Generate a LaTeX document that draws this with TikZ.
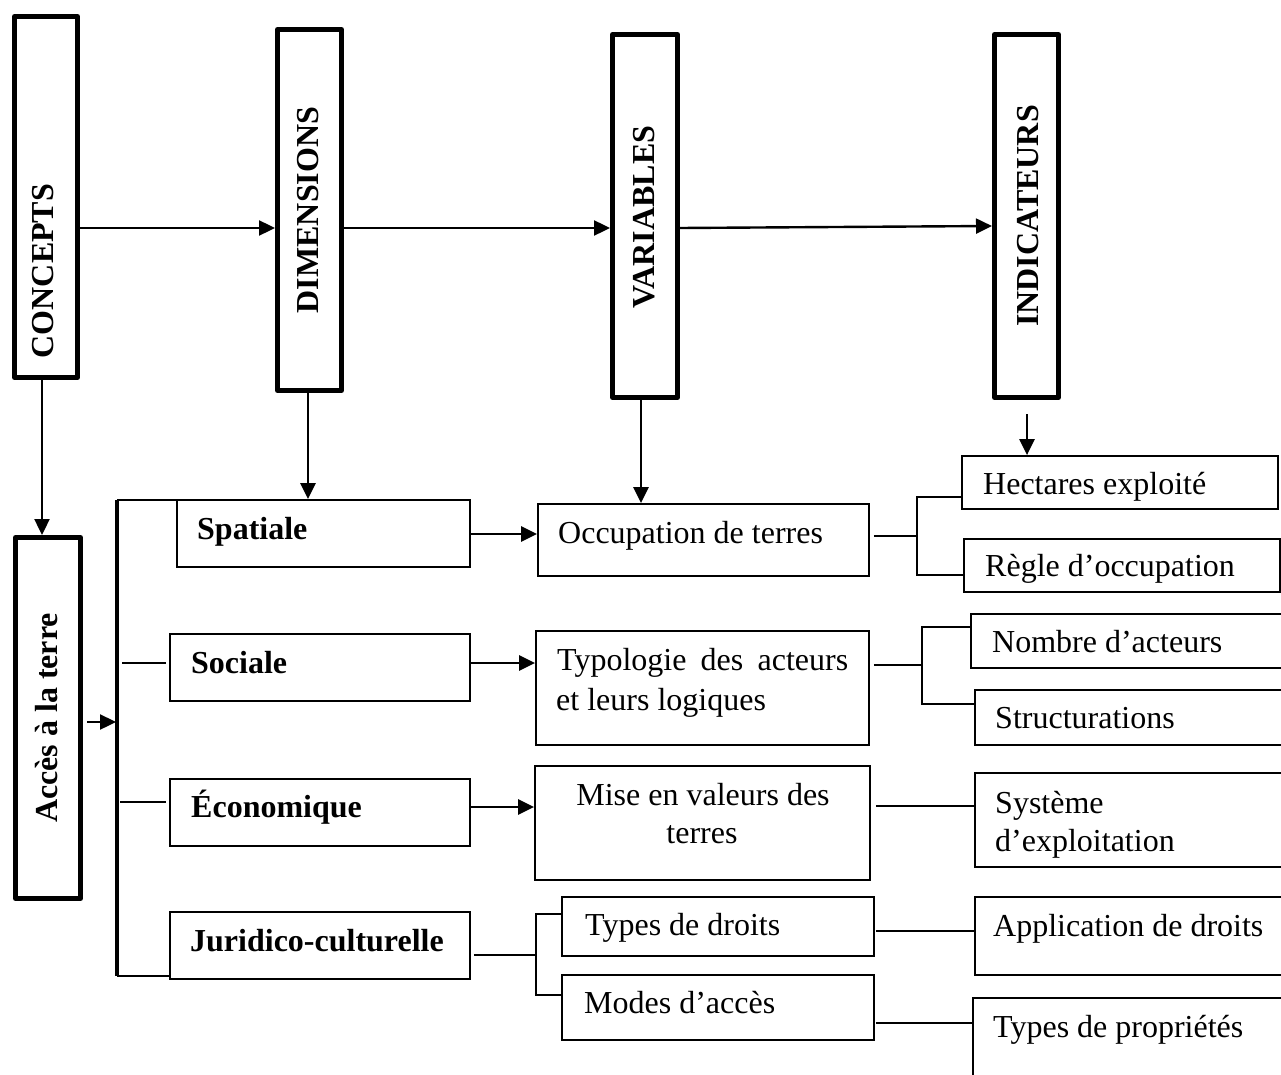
\documentclass[tikz,border=0pt]{standalone}
\usepackage{fontspec}
\setmainfont{Liberation Serif}
\usetikzlibrary{arrows.meta,calc}
\begin{document}
\begin{tikzpicture}[x=1pt,y=-1pt,
  bigbox/.style={draw, line width=5pt, line join=round, inner sep=0pt},
  smallbox/.style={draw, line width=1.8pt, inner sep=0pt},
  lbl/.style={inner sep=0pt, font=\fontsize{32}{38}\selectfont},
  blbl/.style={inner sep=0pt, font=\fontsize{32}{38}\selectfont\bfseries},
  conn/.style={line width=2.4pt},
  arr/.style={line width=2.4pt, -{Triangle[length=16pt,width=15pt]}},
]
\useasboundingbox (0,0) rectangle (1281,1075);
\clip (0,0) rectangle (1281,1075);

% ---- top boxes
\node[bigbox, minimum width=63pt, minimum height=361pt] (concepts) at (46,197) {};
\node[bigbox, minimum width=64pt, minimum height=361pt] (dimensions) at (309.5,210) {};
\node[bigbox, minimum width=65pt, minimum height=363pt] (variables) at (645,216) {};
\node[bigbox, minimum width=64pt, minimum height=363pt] (indicateurs) at (1026.5,216) {};
\node[bigbox, minimum width=65pt, minimum height=361pt] (acces) at (48,718) {};

\node[blbl, rotate=90, anchor=base] (tconcepts) at (53,271) {CONCEPTS};
\node[blbl, rotate=90, anchor=base] (tdim) at (318,210) {DIMENSIONS};
\node[blbl, rotate=90, anchor=base] (tvar) at (654,217) {VARIABLES};
\node[blbl, rotate=90, anchor=base] (tind) at (1038,216) {INDICATEURS};
\node[blbl, rotate=90, anchor=base] (tacces) at (57,718) {Accès à la terre};

% ---- dimension boxes
\node[smallbox, minimum width=293pt, minimum height=67pt] (spatiale) at (323.5,533.5) {};
\node[smallbox, minimum width=300pt, minimum height=67pt] (sociale) at (320,667.5) {};
\node[smallbox, minimum width=300pt, minimum height=67pt] (economique) at (320,812.5) {};
\node[smallbox, minimum width=300pt, minimum height=67pt] (juridico) at (320,945.5) {};

\node[blbl, anchor=base west] (tspatiale) at (197,539) {Spatiale};
\node[blbl, anchor=base west] (tsociale) at (191,673) {Sociale};
\node[blbl, anchor=base west] (teco) at (191,817) {Économique};
\node[blbl, anchor=base west] (tjur) at (190,951) {Juridico-culturelle};

% ---- variable boxes
\node[smallbox, minimum width=331pt, minimum height=72pt] (occupation) at (703.5,540) {};
\node[smallbox, minimum width=333pt, minimum height=114pt] (typologie) at (702.5,688) {};
\node[smallbox, minimum width=335pt, minimum height=114pt] (mise) at (702.5,823) {};
\node[smallbox, minimum width=312pt, minimum height=59pt] (typesdroits) at (718,926.5) {};
\node[smallbox, minimum width=312pt, minimum height=65pt] (modes) at (718,1007.5) {};

\node[lbl, anchor=base west] (tocc) at (558,543) {Occupation de terres};
\node[lbl, anchor=base west] (ttypo1) at (557,670) {\makebox[291pt][s]{Typologie des acteurs}};
\node[lbl, anchor=base west] (ttypo2) at (556,710) {et leurs logiques};
\node[lbl, anchor=base] (tmise1) at (703,805) {Mise en valeurs des};
\node[lbl, anchor=base] (tmise2) at (702,843) {terres};
\node[lbl, anchor=base west] (tdroits) at (585,935) {Types de droits};
\node[lbl, anchor=base west] (tmodes) at (584,1013) {Modes d’accès};

% ---- indicator boxes
\node[smallbox, minimum width=316pt, minimum height=53pt] (hectares) at (1120,482.5) {};
\node[smallbox, minimum width=316pt, minimum height=53pt] (regle) at (1122,565.5) {};
\node[smallbox, minimum width=329pt, minimum height=54pt] (nombre) at (1135.5,641) {};
\node[smallbox, minimum width=325pt, minimum height=55pt] (structurations) at (1137.5,717.5) {};
\node[smallbox, minimum width=325pt, minimum height=94pt] (systeme) at (1137.5,820) {};
\node[smallbox, minimum width=325pt, minimum height=78pt] (application) at (1137.5,936) {};
\node[smallbox, minimum width=327pt, minimum height=92pt] (typesprop) at (1136.5,1044) {};

\node[lbl, anchor=base west] (thect) at (983,494) {Hectares exploité};
\node[lbl, anchor=base west] (tregle) at (985,576) {Règle d’occupation};
\node[lbl, anchor=base west] (tnombre) at (992,652) {Nombre d’acteurs};
\node[lbl, anchor=base west] (tstruct) at (995,728) {Structurations};
\node[lbl, anchor=base west] (tsys1) at (995,813) {Système};
\node[lbl, anchor=base west] (tsys2) at (995,851) {d’exploitation};
\node[lbl, anchor=base west] (tappl) at (993,936) {Application de droits};
\node[lbl, anchor=base west] (tprop) at (993,1037) {Types de propriétés};

% ---- top horizontal arrows
\draw[arr] (concepts.east |- 0,228) -- (dimensions.west |- 0,228);
\draw[arr] (dimensions.east |- 0,228) -- (variables.west |- 0,228);
\draw[arr] (variables.east |- 0,228) -- (indicateurs.west |- 0,226);

% ---- vertical arrows
\draw[arr] (concepts.south -| 42,0) -- (acces.north -| 42,0);
\draw[arr] (dimensions.south -| 308,0) -- (spatiale.north -| 308,0);
\draw[arr] (variables.south -| 641,0) -- (occupation.north -| 641,0);
\coordinate (indstart) at (1027,414);
\draw[arr] (indstart) -- (hectares.north -| indstart);

% ---- main bracket
\coordinate (brtop) at (117,500);
\coordinate (brbot) at (117,976);
\coordinate (brmid) at (116,722);
\draw[line width=4pt] (brtop) -- (brbot);
\draw[arr] ($(acces.east |- brmid)+(4,0)$) -- (brmid);
\draw[conn] (brtop) -- (spatiale.west |- brtop);
\coordinate (socA) at (122,663);
\coordinate (socB) at (166,663);
\draw[conn] (socA) -- (socB);
\coordinate (ecoA) at (120,802);
\coordinate (ecoB) at (166,802);
\draw[conn] (ecoA) -- (ecoB);
\draw[conn] (brbot) -- (juridico.west |- brbot);

% ---- dimension -> variable
\draw[arr] (spatiale.east |- 0,534) -- (occupation.west |- 0,534);
\draw[arr] (sociale.east |- 0,663) -- (typologie.west |- 0,663);
\draw[arr] (economique.east |- 0,807) -- (mise.west |- 0,807);
\coordinate (b2top) at (536,914);
\coordinate (b2bot) at (536,995);
\draw[conn] ($(juridico.east |- 0,955)+(3,0)$) -- (b2top |- 0,955);
\draw[conn] (typesdroits.west |- b2top) -- (b2top) -- (b2bot) -- (modes.west |- b2bot);

% ---- variable -> indicator
\coordinate (b3top) at (917,497);
\coordinate (b3bot) at (917,575);
\draw[conn] ($(occupation.east)+(4,-4)$) -- (b3top |- 0,536);
\draw[conn] (hectares.west |- b3top) -- (b3top) -- (b3bot) -- (regle.west |- b3bot);
\coordinate (b4top) at (922,627);
\coordinate (b4bot) at (922,704);
\draw[conn] ($(typologie.east)+(4,-23)$) -- (b4top |- 0,665);
\draw[conn] (nombre.west |- b4top) -- (b4top) -- (b4bot) -- (structurations.west |- b4bot);
\draw[conn] ($(mise.east)+(5,-17)$) -- (systeme.west |- 0,806);
\draw[conn] ($(typesdroits.east |- 0,931)+(1,0)$) -- (application.west |- 0,931);
\draw[conn] ($(modes.east |- 0,1023)+(1,0)$) -- (typesprop.west |- 0,1023);
\end{tikzpicture}
\end{document}
